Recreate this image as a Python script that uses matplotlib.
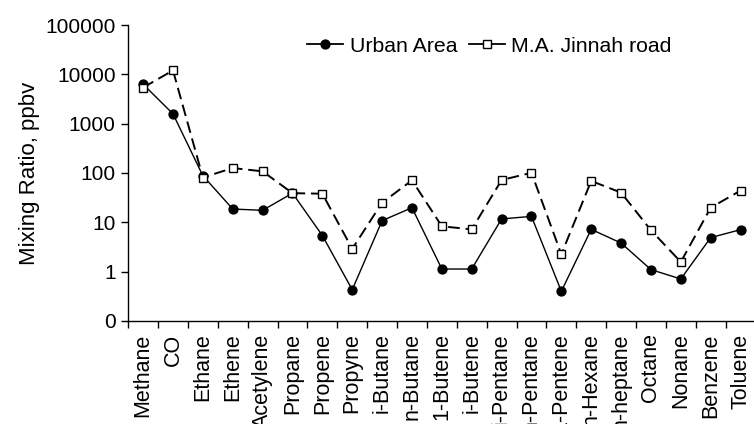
import matplotlib

matplotlib.use("Agg")
import matplotlib.pyplot as plt
from matplotlib.ticker import FixedLocator, NullLocator

plt.rcParams["font.family"] = ["Liberation Sans", "DejaVu Sans"]

compounds = [
    "Methane", "CO", "Ethane", "Ethene", "Acetylene", "Propane", "Propene",
    "Propyne", "i-Butane", "n-Butane", "1-Butene", "i-Butene", "i-Pentane",
    "n-Pentane", "1-Pentene", "n-Hexane", "n-heptane", "Octane", "Nonane",
    "Benzene", "Toluene",
]
urban_area = [
    6300, 1580, 88, 18.6, 17.5, 39, 5.4, 0.43, 10.8, 19.8, 1.13, 1.13, 11.7,
    13.2, 0.40, 7.2, 3.8, 1.1, 0.71, 4.9, 7.1,
]
jinnah_road = [
    5400, 12000, 81, 126, 108, 39, 38, 2.9, 25, 71, 8.3, 7.2, 72, 101, 2.25,
    69, 40, 6.9, 1.57, 19.8, 44,
]
y_ticks = [0.1, 1, 10, 100, 1000, 10000, 100000]
y_tick_labels = ["0", "1", "10", "100", "1000", "10000", "100000"]

fig = plt.figure(figsize=(7.54, 4.24), dpi=100)
ax = fig.add_axes([0.170, 0.243, 0.832, 0.698])

x = list(range(len(compounds)))
ax.plot(x, urban_area, color="black", lw=1.0, marker="o", ms=6.4,
        mfc="black", mec="black", label="Urban Area")
ax.plot(x, jinnah_road, color="black", lw=1.4, dashes=(6, 3), marker="s",
        ms=6.4, mfc="white", mec="black", mew=1.0, label="M.A. Jinnah road")

ax.set_yscale("log")
ax.set_ylim(0.1, 1e5)
ax.yaxis.set_major_locator(FixedLocator(y_ticks))
ax.yaxis.set_minor_locator(NullLocator())
ax.set_yticklabels(y_tick_labels, fontsize=15)
ax.set_ylabel("Mixing Ratio, ppbv", fontsize=16, labelpad=4)

ax.set_xlim(-0.5, len(compounds) - 0.5)
ax.set_xticks(x)
ax.set_xticklabels(compounds, rotation=90, fontsize=15.5, va="top")
ax.set_xticks([i - 0.5 for i in range(len(compounds) + 1)], minor=True)
ax.tick_params(axis="x", which="major", length=0, pad=9)
ax.tick_params(axis="x", which="minor", length=5, width=1, direction="out")
ax.tick_params(axis="y", which="major", length=5, width=1, direction="out",
               pad=4)

for side in ("top", "right"):
    ax.spines[side].set_visible(False)
for side in ("left", "bottom"):
    ax.spines[side].set_linewidth(1.0)

leg = ax.legend(loc="center left", bbox_to_anchor=(307 / 754, 1 - 46 / 424),
                bbox_transform=fig.transFigure, ncol=2, frameon=False,
                fontsize=15.3, handlelength=1.7, handletextpad=0.3,
                columnspacing=0.55, borderpad=0, borderaxespad=0)
# short legend keys read better with an unbroken line
for line in leg.get_lines():
    line.set_linestyle("-")
    line.set_linewidth(1.3)

fig.savefig("out.png", dpi=100)
